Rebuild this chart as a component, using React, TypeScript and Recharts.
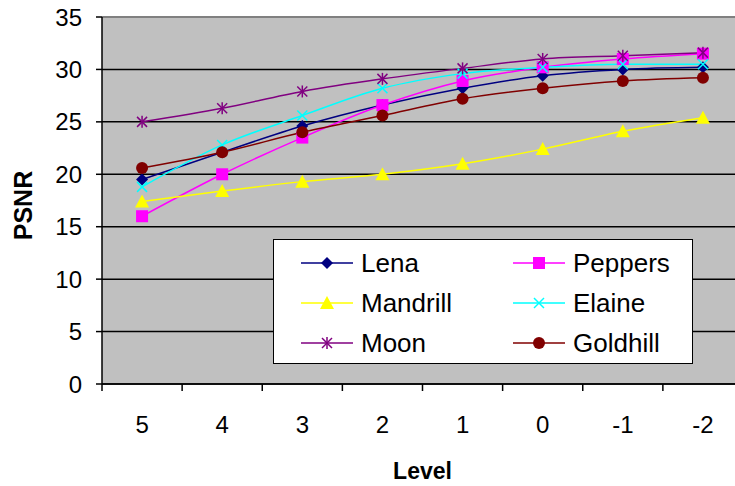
import React from "react";
import {
	CartesianGrid,
	Label,
	Legend,
	Line,
	LineChart,
	ReferenceLine,
	XAxis,
	YAxis,
} from "recharts";

const levels = ["5", "4", "3", "2", "1", "0", "-1", "-2"];
const lena = [19.5, 22.1, 24.6, 26.6, 28.2, 29.4, 30.0, 30.2];
const peppers = [16.0, 20.0, 23.5, 26.6, 28.9, 30.2, 31.0, 31.5];
const mandrill = [17.4, 18.4, 19.3, 20.0, 21.0, 22.4, 24.1, 25.4];
const elaine = [18.8, 22.8, 25.6, 28.2, 29.6, 30.2, 30.5, 30.5];
const moon = [25.0, 26.3, 27.9, 29.1, 30.1, 31.0, 31.3, 31.6];
const goldhill = [20.6, 22.1, 24.0, 25.6, 27.2, 28.2, 28.9, 29.2];
const yTicks = [0, 5, 10, 15, 20, 25, 30, 35];

const FONT = '"Liberation Sans", Arial, sans-serif';

type Shape = "diamond" | "square" | "triangle" | "x" | "star" | "circle";

const series: { name: string; values: number[]; color: string; shape: Shape }[] = [
	{ name: "Lena", values: lena, color: "#000080", shape: "diamond" },
	{ name: "Peppers", values: peppers, color: "#ff00ff", shape: "square" },
	{ name: "Mandrill", values: mandrill, color: "#ffff00", shape: "triangle" },
	{ name: "Elaine", values: elaine, color: "#00ffff", shape: "x" },
	{ name: "Moon", values: moon, color: "#800080", shape: "star" },
	{ name: "Goldhill", values: goldhill, color: "#800000", shape: "circle" },
];

const data = levels.map((level, i) => {
	const row: Record<string, string | number> = { level };
	series.forEach((s) => {
		row[s.name] = s.values[i];
	});
	return row;
});

const Marker = ({ shape, cx, cy, color }: { shape: Shape; cx: number; cy: number; color: string }) => {
	switch (shape) {
		case "diamond":
			return <polygon points={`${cx},${cy - 6} ${cx + 6},${cy} ${cx},${cy + 6} ${cx - 6},${cy}`} fill={color} />;
		case "square":
			return <rect x={cx - 6} y={cy - 6} width={12} height={12} fill={color} />;
		case "triangle":
			return <polygon points={`${cx},${cy - 7} ${cx + 7},${cy + 6} ${cx - 7},${cy + 6}`} fill={color} />;
		case "x":
			return (
				<g stroke={color} strokeWidth={1.5}>
					<line x1={cx - 5} y1={cy - 5} x2={cx + 5} y2={cy + 5} />
					<line x1={cx - 5} y1={cy + 5} x2={cx + 5} y2={cy - 5} />
				</g>
			);
		case "star":
			return (
				<g stroke={color} strokeWidth={1.5}>
					<line x1={cx - 5} y1={cy - 5} x2={cx + 5} y2={cy + 5} />
					<line x1={cx - 5} y1={cy + 5} x2={cx + 5} y2={cy - 5} />
					<line x1={cx} y1={cy - 6} x2={cx} y2={cy + 6} />
				</g>
			);
		default:
			return <circle cx={cx} cy={cy} r={6} fill={color} />;
	}
};

const LevelTick = (props: any) => {
	const { x, y, payload } = props;
	const off = payload.offset ?? 40;
	return (
		<g>
			<line x1={x - off} y1={y} x2={x - off} y2={y + 7} stroke="#000" strokeWidth={1.5} />
			<text x={x} y={y + 49} textAnchor="middle" fontSize={24} fontFamily={FONT} fill="#000">
				{payload.value}
			</text>
		</g>
	);
};

const LegendBox = () => (
	<div
		style={{
			boxSizing: "border-box",
			width: 420,
			height: 125,
			border: "1.5px solid #000",
			background: "#fff",
			paddingTop: 3,
			paddingLeft: 27,
			display: "grid",
			gridTemplateColumns: "212px 180px",
			gridAutoRows: "40px",
			fontFamily: FONT,
			fontSize: 26,
			color: "#000",
		}}
	>
		{series.map((s) => (
			<div key={s.name} style={{ display: "flex", alignItems: "center" }}>
				<svg width={60} height={20}>
					<line x1={0} y1={10} x2={52} y2={10} stroke={s.color} strokeWidth={1.5} />
					<Marker shape={s.shape} cx={26} cy={10} color={s.color} />
				</svg>
				<span>{s.name}</span>
			</div>
		))}
	</div>
);

export default function App() {
	return (
		<div style={{ position: "absolute", left: 0, top: 0, width: 735, height: 486, overflow: "hidden", background: "#fff" }}>
			<LineChart width={745} height={486} data={data} margin={{ top: 17, right: 2, bottom: 0, left: 0 }}>
				<CartesianGrid vertical={false} stroke="#000" strokeWidth={1.5} fill="#c0c0c0" fillOpacity={1} />
				<XAxis
					dataKey="level"
					scale="band"
					interval={0}
					height={102}
					tickLine={false}
					tickSize={0}
					tickMargin={0}
					axisLine={{ stroke: "#000", strokeWidth: 1.5 }}
					tick={<LevelTick />}
				>
					<Label
						content={({ viewBox }: any) => (
							<text
								x={viewBox.x + viewBox.width / 2}
								y={viewBox.y + 95}
								textAnchor="middle"
								fontSize={23}
								fontWeight="bold"
								fontFamily={FONT}
								fill="#000"
							>
								Level
							</text>
						)}
					/>
				</XAxis>
				<YAxis
					domain={[0, 35]}
					ticks={yTicks}
					width={102}
					tickSize={6}
					tickMargin={14}
					axisLine={{ stroke: "#000", strokeWidth: 1.5 }}
					tickLine={{ stroke: "#000", strokeWidth: 1.5 }}
					tick={{ fill: "#000", fontSize: 24, fontFamily: FONT }}
				>
					<Label
						content={({ viewBox }: any) => {
							const cx = 23;
							const cy = viewBox.y + viewBox.height / 2 + 5;
							return (
								<text
									x={cx}
									y={cy}
									transform={`rotate(-90, ${cx}, ${cy})`}
									textAnchor="middle"
									dominantBaseline="central"
									fontSize={25}
									fontWeight="bold"
									fontFamily={FONT}
									fill="#000"
								>
									PSNR
								</text>
							);
						}}
					/>
				</YAxis>
				<ReferenceLine y={35} stroke="#808080" strokeWidth={2} />
				{series.map((s) => (
					<Line
						key={s.name}
						type="monotone"
						dataKey={s.name}
						stroke={s.color}
						strokeWidth={1.5}
						isAnimationActive={false}
						dot={(p: any) => <Marker key={`${s.name}-${p.index}`} shape={s.shape} cx={p.cx} cy={p.cy} color={s.color} />}
						activeDot={false}
					/>
				))}
				<Legend
					layout="horizontal"
					verticalAlign="middle"
					align="center"
					wrapperStyle={{ left: 273, top: 239, width: 420, height: 125 }}
					content={() => <LegendBox />}
				/>
			</LineChart>
		</div>
	);
}
